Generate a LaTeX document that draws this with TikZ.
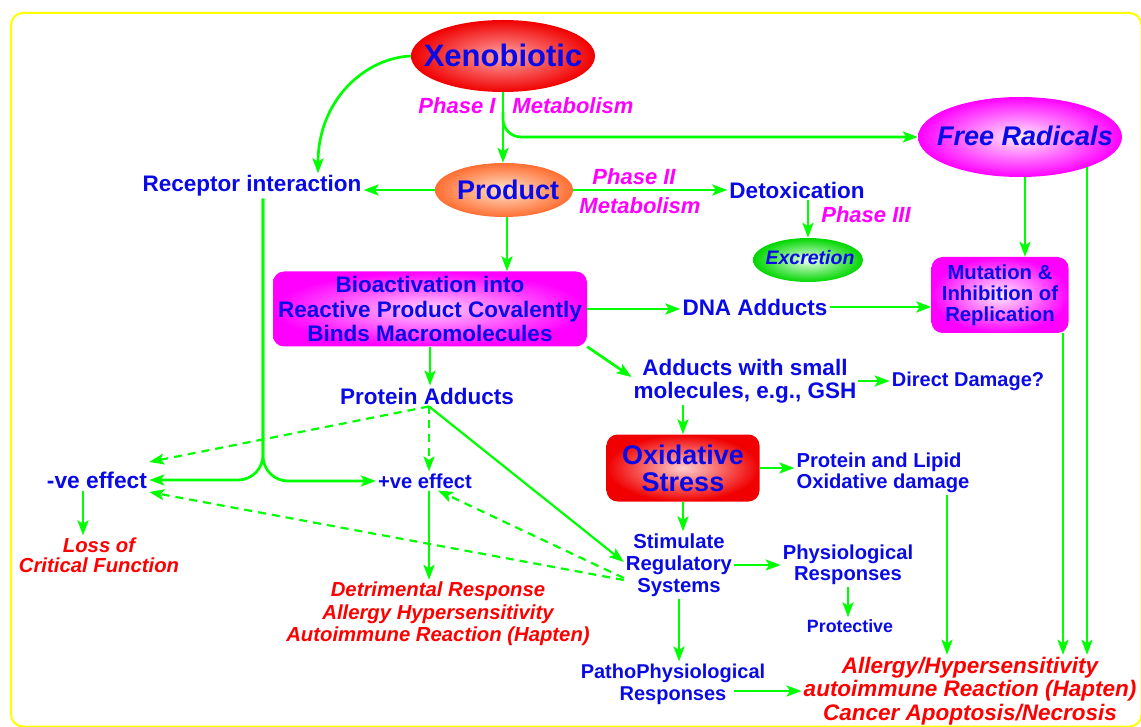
\documentclass[tikz,border=0pt]{standalone}
\usepackage{fontspec}
\setmainfont{Liberation Sans}
\usetikzlibrary{arrows.meta,shapes.geometric,calc}
\newcommand\myfs[2]{\fontsize{#1}{#2}\selectfont}
\definecolor{tblue}{RGB}{10,10,230}
\definecolor{tgreen}{RGB}{0,255,0}
\definecolor{tmag}{RGB}{255,0,255}
\definecolor{tred}{RGB}{255,0,0}
\definecolor{tyel}{RGB}{255,255,0}
\definecolor{xenoin}{RGB}{255,165,165}
\definecolor{xenoout}{RGB}{240,0,0}
\definecolor{prodin}{RGB}{255,228,205}
\definecolor{prodout}{RGB}{255,110,50}
\definecolor{freein}{RGB}{255,238,255}
\definecolor{excin}{RGB}{235,255,235}
\definecolor{excout}{RGB}{0,215,0}
\definecolor{bioin}{RGB}{255,205,255}
\definecolor{mutin}{RGB}{255,235,255}
\definecolor{oxin}{RGB}{255,205,205}
\begin{document}
\begin{tikzpicture}[x=1pt,y=-1pt,
 tx/.style={text=tblue, inner sep=2pt, align=center},
 ph/.style={text=tmag, inner sep=1pt, font=\bfseries\itshape\myfs{22}{24}},
 rd/.style={text=tred, inner sep=2pt, align=center},
 ell/.style={ellipse, inner sep=0pt},
 rbox/.style={rectangle, rounded corners=11pt, inner sep=0pt, text=tblue, align=center},
 arr/.style={-{Stealth[length=15pt,width=11pt,inset=3.5pt]}},
 conn/.style={draw=tgreen, line width=2.7pt, arr},
 dconn/.style={draw=tgreen, line width=2.2pt, dash pattern=on 8pt off 6pt, arr}]
\useasboundingbox (0,0) rectangle (1141,727);
\draw[tyel, line width=2pt, rounded corners=12pt] (11,13) rectangle (1141.5,726.5);

% shapes
\node[ell, minimum width=184pt, minimum height=72pt, inner color=xenoin, outer color=xenoout] (xeno) at (503,56) {};
\node[ell, minimum width=138pt, minimum height=54pt, inner color=prodin, outer color=prodout] (prod) at (504,190) {};
\node[ell, minimum width=110pt, minimum height=44pt, inner color=excin, outer color=excout] (exc) at (808,260) {};
\node[ell, minimum width=204pt, minimum height=80pt, inner color=freein, outer color=tmag] (free) at (1020,137) {};

% texts
\node[tx, font=\bfseries\myfs{31}{33}] (xenot) at (503,55) {Xenobiotic};
\node[tx, font=\bfseries\myfs{27}{29}] (prodt) at (508,190) {Product};
\node[tx, font=\bfseries\itshape\myfs{19.5}{21}] (exct) at (810,258) {Excretion};
\node[tx, font=\bfseries\itshape\myfs{27}{29}] (freet) at (1025,136) {Free Radicals};
\node[ph] (ph1) at (457,106) {Phase I};
\node[ph] (me1) at (573,106) {Metabolism};
\node[tx, font=\bfseries\myfs{22.5}{24}] (rec) at (252,186) {Receptor interaction};
\node[ph] (ph2) at (634,177) {Phase II};
\node[ph] (me2) at (640,206) {Metabolism};
\node[tx, font=\bfseries\myfs{22.5}{24}] (det) at (797,190) {Detoxication};
\node[ph] (ph3) at (866,215) {Phase III};
\node[rbox, minimum width=137pt, minimum height=76pt, inner color=mutin, outer color=tmag, font=\bfseries\myfs{20.3}{21}] (mut) at (1000,295) {Mutation \&\\Inhibition of\\Replication};
\node[rbox, minimum width=314pt, minimum height=75pt, inner color=bioin, outer color=tmag, font=\bfseries\myfs{22.5}{24.5}] (bio) at (430,309) {Bioactivation into\\Reactive Product Covalently\\Binds Macromolecules};
\node[tx, font=\bfseries\myfs{22.5}{24}] (dna) at (755,307) {DNA Adducts};
\node[tx, font=\bfseries\myfs{22.5}{22.5}] (adds) at (745,381) {Adducts with small\\molecules, e.g., GSH};
\node[tx, font=\bfseries\myfs{20}{22}] (dir) at (968,381) {Direct Damage?};
\node[rbox, minimum width=153pt, minimum height=67pt, inner color=oxin, outer color=xenoout, font=\bfseries\myfs{27}{27}] (ox) at (683,468) {Oxidative\\Stress};
\node[tx, align=left, font=\bfseries\myfs{20.2}{21}] (pl) at (883,473) {Protein and Lipid\\Oxidative damage};
\node[tx, font=\bfseries\myfs{20.3}{22}] (stim) at (679,565) {Stimulate\\Regulatory\\Systems};
\node[tx, font=\bfseries\myfs{20.2}{21}] (phys) at (848,565) {Physiological\\Responses};
\node[tx, font=\bfseries\myfs{17.8}{20}] (prot) at (850,626) {Protective};
\node[tx, font=\bfseries\myfs{20}{22}] (path) at (673,684) {PathoPhysiological\\Responses};
\node[rd, font=\bfseries\itshape\myfs{22.5}{23.5}] (fin) at (970,691) {Allergy/Hypersensitivity\\autoimmune Reaction (Hapten)\\Cancer Apoptosis/Necrosis};
\node[tx, font=\bfseries\myfs{22.5}{24}] (pa) at (427,396) {Protein Adducts};
\node[tx, font=\bfseries\myfs{22.8}{24}] (neg) at (97,480) {-ve effect};
\node[tx, font=\bfseries\myfs{20.2}{22}] (pos) at (425,481) {+ve effect};
\node[rd, font=\bfseries\itshape\myfs{20.3}{22.5}] (detr) at (438,614) {Detrimental Response\\Allergy Hypersensitivity\\Autoimmune Reaction (Hapten)};
\node[rd, font=\bfseries\itshape\myfs{20.3}{20}] (loss) at (99,555) {Loss of\\Critical Function};

% helper coordinates
\coordinate (frb) at ($(free.center)+(67,30)$);
\coordinate (mutb) at ($(mut.south)+(63,0)$);
\coordinate (frm) at ($(mut.north |- free.south)+(25,0)$);
\coordinate (plb) at ($(pl.south)+(64,0)$);
\coordinate (pathr) at ($(path.east |- fin.west)+(-33,0)$);

% connectors
\draw[conn] (xeno.south) -- (xeno.south |- prod.north);
\draw[conn, rounded corners=18pt] ([yshift=-20pt]xeno.south) |- (free.west);
\draw[conn] (xeno.west) .. controls (365,58) and (318,100) .. ([xshift=66pt]rec.north);
\draw[conn] (prod.west) -- (prod.west -| rec.east);
\draw[conn] (prod.east) -- (prod.east -| det.west);
\draw[conn] (exc.north |- det.south) -- (exc.north);
\draw[conn] (frm) -- (frm |- mut.north);
\draw[conn] (frb) -- (frb |- fin.north);
\draw[conn] (mutb) -- (mutb |- fin.north);
\draw[conn] ([xshift=3pt]prod.south) -- ([xshift=3pt]prod.south |- bio.north);
\draw[conn] (bio.east) -- (bio.east -| dna.west);
\draw[conn] (dna.east) -- (dna.east -| mut.west);
\draw[conn] (bio.south east) -- ([yshift=4pt]adds.west);
\draw[conn] (adds.east |- dir.west) -- (dir.west);
\draw[conn] (ox.north |- adds.south) -- (ox.north);
\draw[conn] (ox.east) -- (ox.east -| pl.west);
\draw[conn] (plb) -- (plb |- fin.north);
\draw[conn] (ox.south) -- (ox.south |- stim.north);
\draw[conn] (stim.east) -- (stim.east -| phys.west);
\draw[conn] (phys.south) -- (phys.south |- prot.north);
\draw[conn] (stim.south) -- (stim.south |- path.north);
\draw[conn] (pathr) -- (fin.west);
\draw[conn] (bio.south) -- (bio.south |- pa.north);
\draw[conn, rounded corners=25pt] ([xshift=11pt]rec.south) |- (neg.east);
\draw[conn, rounded corners=25pt] ([xshift=11pt]rec.south) |- (pos.west);
\draw[dconn] ([xshift=2pt]pa.south) -- ([xshift=2pt]pa.south |- pos.north);
\draw[dconn] ([xshift=2pt]pa.south) -- ([yshift=18pt]neg.east);
\draw[conn, line width=2.2pt] ([xshift=2pt]pa.south) -- ([yshift=3pt]stim.west);
\draw[dconn] ([yshift=-15pt]stim.west) -- ([yshift=-12pt]neg.east);
\draw[dconn] ([yshift=-13pt]stim.west) -- ([xshift=13pt]pos.south);
\draw[conn] ([xshift=4pt]pos.south) -- ([xshift=4pt]pos.south |- detr.north);
\draw[conn] ([xshift=-14pt]neg.south) -- ([xshift=-14pt]neg.south |- loss.north);
\end{tikzpicture}
\end{document}
